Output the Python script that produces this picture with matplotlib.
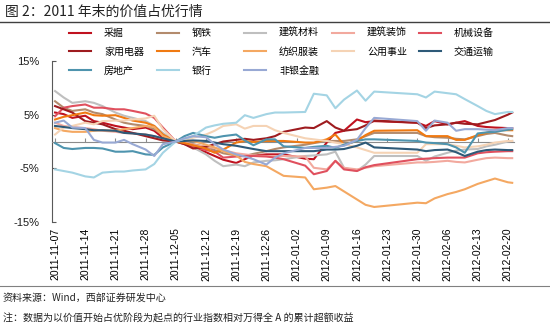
import matplotlib.pyplot as plt
import matplotlib.dates as mdates
import pandas as pd

plt.rcParams['font.family'] = ['Noto Sans CJK SC', 'DejaVu Sans']

# sample dates (trading days, values are cumulative excess return in %)
dates = pd.to_datetime([
    '2011-11-07', '2011-11-09', '2011-11-11', '2011-11-14', '2011-11-16', '2011-11-18',
    '2011-11-21', '2011-11-23', '2011-11-25', '2011-11-28', '2011-11-30', '2011-12-02',
    '2011-12-05', '2011-12-07', '2011-12-09', '2011-12-12', '2011-12-14', '2011-12-16',
    '2011-12-19', '2011-12-21', '2011-12-23', '2011-12-26', '2011-12-28', '2011-12-30',
    '2012-01-04', '2012-01-06', '2012-01-09', '2012-01-11', '2012-01-13', '2012-01-16',
    '2012-01-18', '2012-01-20', '2012-01-30', '2012-02-01', '2012-02-03', '2012-02-06',
    '2012-02-08', '2012-02-10', '2012-02-13', '2012-02-15', '2012-02-17', '2012-02-20',
    '2012-02-21'])

caijue = [5.4, 5.1, 4.4, 4.8, 3.8, 3.5, 2.9, 2.6, 2.3, 2.6, 2.0, 0.7, 0.0,
          -0.3, -1.1, -2.0, -2.7, -3.4, -4.0, -3.3, -2.6, -2.4, -2.4, -2.4, -3.2, -3.3,
          -0.2, 1.6, 2.0, 4.1, 3.6, 3.8, 3.5, 2.9, 3.8, 3.2, 3.5, 3.8, 2.9, 2.7, 2.6, 2.5, 2.5]
gangtie = [7.5, 6.3, 5.7, 6.0, 5.4, 5.1, 4.1, 3.5, 3.2, 2.9, 2.3, 1.3, 0.0,
           -0.2, -0.5, -1.0, -1.6, -2.2, -2.6, -2.7, -2.3, -1.8, -1.4, -1.1, -0.6, -0.3,
           0.1, 0.1, 0.1, 0.4, 1.0, 1.6, 1.6, 1.0, 0.8, 0.7, 0.5, 0.4, 1.0, 1.4, 1.6, 1.1, 1.0]
jiancai = [9.4, 8.2, 7.2, 7.5, 7.2, 6.6, 5.4, 4.8, 4.4, 3.8, 2.9, 1.6, 0.0,
           -0.4, -1.1, -2.4, -3.6, -4.6, -4.3, -4.6, -3.9, -3.6, -3.5, -3.3, -2.7, -2.6,
           -2.4, -1.9, -4.9, -5.5, -4.3, -2.7, -2.7, -3.6, -2.8, -2.1, -1.7, -1.5, -1.4,
           -0.9, -0.6, 0.0, 0.1]
jianzhuang = [3.5, 2.9, 2.7, 2.5, 2.3, 2.0, 1.8, 1.6, 1.5, 1.3, 1.0, 0.4, 0.0,
              -0.2, -0.6, -1.0, -1.2, -1.6, -2.2, -2.4, -2.6, -2.7, -2.7, -2.7, -2.8, -4.9,
              -5.2, -3.6, -4.9, -5.2, -4.9, -4.6, -3.9, -3.9, -3.8, -3.6, -3.8, -3.9, -3.4,
              -3.1, -3.0, -3.1, -3.1]
jixie = [4.7, 6.3, 6.6, 6.9, 6.3, 6.3, 6.0, 6.0, 5.7, 5.2, 4.4, 2.6, 0.0,
         -0.5, -1.0, -1.6, -1.9, -3.0, -2.8, -2.7, -2.7, -2.8, -3.0, -3.3, -4.5, -6.1,
         -5.5, -3.6, -5.2, -5.5, -4.8, -4.4, -3.3, -3.2, -3.1, -3.0, -3.0, -3.0, -2.2,
         -2.0, -1.9, -1.8, -1.8]
jiadian = [6.6, 6.0, 5.4, 3.8, 3.5, 3.2, 2.3, 2.0, 1.6, 1.0, 0.6, 0.2, 0.0,
           -0.5, -1.3, -1.0, -0.5, 0.0, 0.3, 0.5, 0.3, 0.6, 1.0, 1.8, 2.6, 2.5,
           3.8, 2.6, 2.0, 2.3, 3.0, 3.9, 3.5, 2.5, 3.0, 3.2, 3.5, 3.3, 3.2, 3.6, 4.0, 5.0, 5.4]
qiche = [4.1, 4.6, 4.9, 5.4, 4.9, 4.8, 4.9, 4.4, 3.9, 3.5, 2.9, 1.3, 0.0,
         -0.3, -0.7, -1.3, -2.1, -1.5, -0.2, 0.1, -0.1, 0.1, 0.1, 0.1, -0.2, -0.2,
         0.4, 1.3, -0.6, 0.1, 1.2, 2.0, 2.1, 1.0, 1.0, 1.0, 0.3, 0.3, 1.2, 1.6, 2.1, 2.1, 2.1]
fangzhi = [2.5, 2.0, 1.8, 1.8, 2.0, 2.1, 2.0, 2.3, 2.5, 2.9, 2.7, 1.0, 0.0,
           0.1, 0.1, -0.6, -1.1, -1.8, -2.6, -3.8, -4.2, -4.6, -5.5, -6.4, -6.7, -8.9,
           -8.6, -8.3, -9.3, -10.8, -11.8, -12.2, -11.4, -11.5, -10.6, -9.8, -9.4, -8.9,
           -7.9, -7.4, -6.9, -7.6, -7.7]
gongyong = [1.3, 2.6, 2.9, 3.5, 3.2, 3.8, 3.9, 3.9, 4.1, 4.3, 4.8, 2.3, 0.0,
            0.3, 0.7, 1.3, 2.0, 2.9, 3.2, 2.4, 2.9, 2.9, 2.1, 1.6, 0.6, 0.4,
            0.1, -0.2, -0.5, -1.1, -1.6, -2.1, -2.1, -0.5, -0.5, -0.5, -0.8, -1.1, -0.9,
            -0.6, -0.2, 0.1, 0.1]
jiaotong = [2.9, 2.7, 2.5, 2.3, 2.1, 2.1, 2.0, 1.6, 1.5, 1.3, 1.0, 0.6, 0.0,
            0.1, 0.2, 0.1, -0.2, -0.5, -0.8, -1.1, -1.4, -1.8, -1.8, -1.8, -1.8, -1.8,
            -1.5, -1.5, -1.4, -0.8, -0.2, -1.1, -1.5, -1.8, -1.6, -1.5, -2.0, -2.7, -1.9,
            -1.6, -1.5, -1.6, -1.6]
fangdichan = [-0.3, -1.2, -1.4, -1.2, -1.2, -1.3, -1.9, -1.9, -1.8, -2.4, -2.5, -1.1, 0.0,
              1.0, 1.6, 1.0, 0.7, 1.0, 1.3, 0.2, -0.7, 0.4, 0.4, -0.9, -1.2, -1.0,
              -0.8, -1.2, -0.6, 0.1, 0.4, 0.4, 0.1, -0.2, -0.3, -0.5, -1.1, -2.1, 1.5,
              1.7, 1.8, 2.2, 2.3]
yinhang = [-5.2, -5.5, -5.8, -6.5, -6.7, -5.8, -5.6, -5.6, -5.4, -5.2, -4.2, -2.1, 0.0,
           0.5, 1.0, 2.6, 3.0, 3.3, 3.5, 4.9, 4.4, 5.1, 5.4, 5.4, 5.5, 8.9,
           8.6, 6.2, 7.8, 9.5, 7.6, 9.3, 8.8, 8.2, 9.3, 9.0, 8.8, 7.9, 6.6, 5.7, 5.1, 5.5, 5.5]
feiyin = [3.5, 3.9, 2.6, 2.5, 0.3, -0.2, -0.2, 0.3, -0.5, -1.5, -2.7, -0.5, 0.0,
          0.6, 1.0, 0.8, -0.5, -1.5, -2.4, -2.8, -3.3, -4.3, -3.0, -2.2, -1.2, -1.2,
          -1.2, -1.0, -0.8, 0.3, 2.5, 4.4, 3.8, 2.0, 3.9, 3.5, 2.0, 2.3, 2.3, 2.2, 2.1, 2.5, 2.5]

names = ['采掘', '钢铁', '建筑材料', '建筑装饰', '机械设备',
         '家用电器', '汽车', '纺织服装', '公用事业', '交通运输',
         '房地产', '银行', '非银金融']
series = [caijue, gangtie, jiancai, jianzhuang, jixie,
          jiadian, qiche, fangzhi, gongyong, jiaotong,
          fangdichan, yinhang, feiyin]
colors = ['#C0121F', '#B38B6D', '#BFBFBF', '#F2A99E', '#E0505E',
          '#9E1B1F', '#F07A12', '#F4A862', '#F5D3B5', '#2E5A78',
          '#4E94AE', '#A4D4E4', '#98A9D4']

week_ticks = pd.date_range('2011-11-07', '2012-02-20', freq='7D')

fig = plt.figure(figsize=(5.5, 3.27), dpi=100)
ax = fig.add_axes([52 / 550, 1 - 222 / 327, 462 / 550, 161 / 327])

handles = {}
for name, vals, c in zip(names, series, colors):
    ln, = ax.plot(dates, vals, color=c, lw=1.5, zorder=3)
    handles[name] = ln

ax.set_ylim(-15, 15)
ax.set_yticks([-15, -5, 5, 15])
ax.set_yticklabels(['-15%', '-5%', '5%', '15%'], family='Liberation Sans')
ax.set_xlim(pd.Timestamp('2011-11-07') - pd.Timedelta(hours=17),
            pd.Timestamp('2012-02-21') + pd.Timedelta(hours=10))

for s in ['top', 'right']:
    ax.spines[s].set_visible(False)
ax.spines['left'].set_color('#595959')
ax.spines['bottom'].set_position(('data', 0))
ax.spines['bottom'].set_color('#8C8C8C')
ax.spines['bottom'].set_linewidth(0.8)
ax.set_xticks(week_ticks)
ax.tick_params(axis='x', direction='in', length=3, color='#8C8C8C', labelbottom=False)
ax.tick_params(axis='y', direction='in', length=3, color='#595959', labelsize=8,
               pad=9, labelcolor='#1a1a1a')

sec = ax.secondary_xaxis('bottom')
sec.set_xticks(week_ticks)
sec.xaxis.set_major_formatter(mdates.DateFormatter('%Y-%m-%d'))
sec.tick_params(length=0, pad=4, labelsize=7.5, labelrotation=90)
for lbl in sec.get_xticklabels():
    lbl.set_family('Liberation Sans')
sec.spines['bottom'].set_visible(False)

# legend, one block per column
col_x = [69, 157, 244, 332, 419]
for i, x in enumerate(col_x):
    col_names = names[i::5]
    fig.legend([handles[n] for n in col_names], col_names, loc='upper left',
               bbox_to_anchor=(x / 550, 1 - 28 / 327), frameon=False, fontsize=7.2,
               handlelength=2.2, handletextpad=1.3, labelspacing=0.88,
               borderpad=0, borderaxespad=0)

fig.text(5 / 550, 1 - 12 / 327, '图 2：2011 年末的价值占优行情', fontsize=10,
         va='center', ha='left', color='#222222')
fig.add_artist(plt.Line2D([0, 1], [1 - 22 / 327, 1 - 22 / 327], color='#404040', lw=1))
fig.add_artist(plt.Line2D([0, 1], [1 - 286 / 327, 1 - 286 / 327], color='#808080', lw=0.8))
fig.text(3 / 550, 1 - 298 / 327, '资料来源：Wind，西部证券研发中心', fontsize=7.2,
         va='center', ha='left', color='#222222')
fig.text(3 / 550, 1 - 319 / 327, '注：数据为以价值开始占优阶段为起点的行业指数相对万得全 A 的累计超额收益',
         fontsize=7.2, va='center', ha='left', color='#222222')

fig.savefig('out.png', dpi=100)
